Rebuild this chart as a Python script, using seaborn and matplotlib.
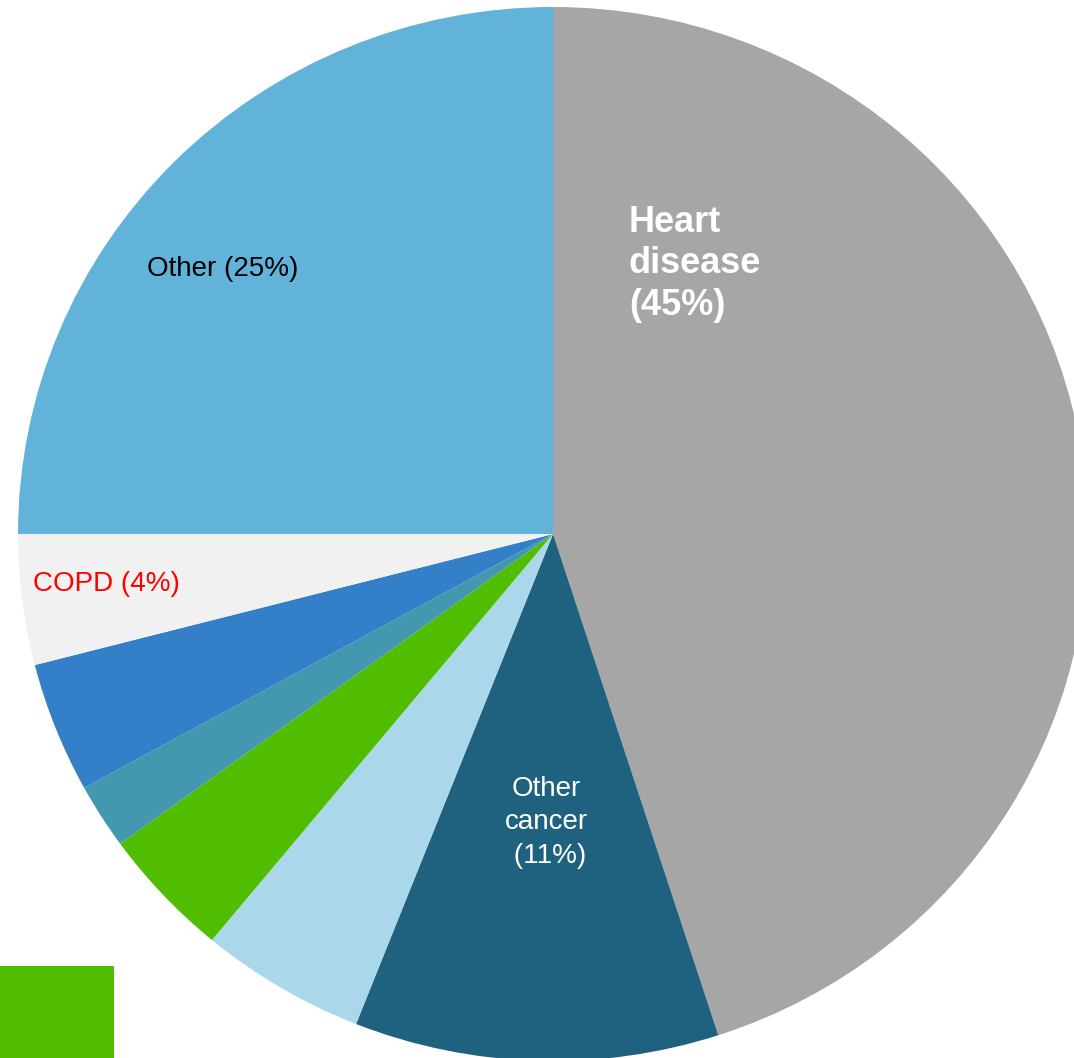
import matplotlib
matplotlib.use('Agg')
import matplotlib.pyplot as plt
import seaborn as sns
from matplotlib.patches import Rectangle

# slices, clockwise from 12 o'clock
causes = ['Heart disease', 'Other cancer', 'Cancer A', 'Cancer B',
          'Cancer C', 'Cancer D', 'COPD', 'Other']
shares = [45, 11, 5, 4, 2, 4, 4, 25]
colors = ['#A6A6A6', '#1F6280', '#ABD7EA', '#51BD00',
          '#4397AE', '#3380C8', '#F1F1F1', '#61B3D9']

sns.set_theme(style='white')
plt.rcParams['font.family'] = ['Liberation Sans', 'DejaVu Sans']

fig = plt.figure(figsize=(10.74, 10.58), dpi=100)
# pie centre at (553, 534) px, radii 535 x 527 px
ax = fig.add_axes([18 / 1074, -3 / 1058, 1070 / 1074, 1054 / 1058])

ax.pie(shares, colors=colors, startangle=90, counterclock=False,
       radius=1, wedgeprops={'linewidth': 0})
ax.set_aspect('auto')
ax.set_xlim(-1, 1)
ax.set_ylim(-1, 1)
ax.axis('off')

# labels
ax.text(0.142, 0.624, 'Heart\ndisease\n(45%)', color='white', fontsize=26,
        fontweight='bold', ha='left', va='top', linespacing=1.23)
ax.text(-0.013, -0.547, 'Other\ncancer\n (11%)', color='white', fontsize=20,
        ha='center', va='center', linespacing=1.38)
ax.text(-0.759, 0.503, 'Other (25%)', color='black', fontsize=20,
        ha='left', va='center')
ax.text(-0.972, -0.094, 'COPD (4%)', color='red', fontsize=20,
        ha='left', va='center')

# green patch bottom-left
fig.patches.append(Rectangle((0, 0), 114 / 1074, 92 / 1058, transform=fig.transFigure,
                             facecolor='#51BD00', edgecolor='none', figure=fig))

fig.savefig('out.png', dpi=100)
